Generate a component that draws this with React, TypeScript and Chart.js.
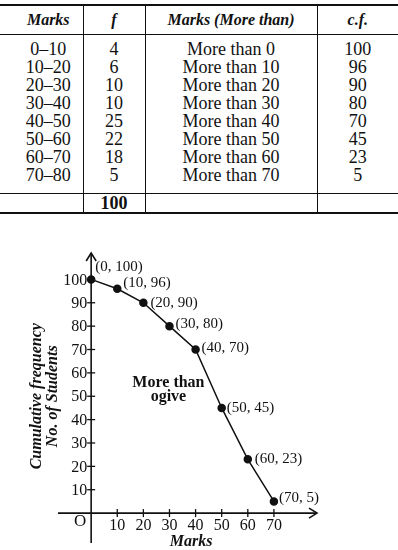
import React, { useEffect, useRef } from "react";
import { Chart, registerables } from "chart.js";
Chart.register(...registerables);

// ---- data ----
const classes = ["0–10", "10–20", "20–30", "30–40", "40–50", "50–60", "60–70", "70–80"];
const freq = [4, 6, 10, 10, 25, 22, 18, 5];
const moreThanLabels = ["More than 0", "More than 10", "More than 20", "More than 30", "More than 40", "More than 50", "More than 60", "More than 70"];
const cumFreq = [100, 96, 90, 80, 70, 45, 23, 5];
const totalFreq = 100;
const lowerLimits = [0, 10, 20, 30, 40, 50, 60, 70];
const xTicks = [10, 20, 30, 40, 50, 60, 70];
const yTicks = [10, 20, 30, 40, 50, 60, 70, 80, 90, 100];
const headers = ["Marks", "f", "Marks (More than)", "c.f."];
const xTitle = "Marks";
const yTitleLines = ["Cumulative frequency", "No. of Students"];
const curveName = ["More than", "ogive"];

const SERIF = "'Liberation Serif', 'Times New Roman', serif";

export default function App() {
  const ref = useRef<HTMLCanvasElement | null>(null);

  useEffect(() => {
    if (!ref.current) return;
    const labelOffsets = [[4, -12], [6, -6], [7, 0], [6, -2], [6, -1], [5, 0], [7, 0], [5, -3]];
    const axesPlugin = {
      id: "axesDraw",
      beforeDatasetsDraw(chart: any) {
        const { ctx, chartArea, scales } = chart;
        const xs = scales.x, ys = scales.y;
        const x0 = xs.getPixelForValue(0);
        const y0 = ys.getPixelForValue(0);
        ctx.save();
        ctx.strokeStyle = "#111";
        ctx.fillStyle = "#111";
        ctx.lineWidth = 1.6;
        // x axis
        ctx.beginPath();
        ctx.moveTo(chartArea.left, y0);
        ctx.lineTo(chartArea.right, y0);
        ctx.stroke();
        ctx.beginPath();
        ctx.moveTo(chartArea.right - 8, y0 - 5);
        ctx.lineTo(chartArea.right, y0);
        ctx.lineTo(chartArea.right - 8, y0 + 5);
        ctx.stroke();
        // y axis
        ctx.beginPath();
        ctx.moveTo(x0, chartArea.bottom);
        ctx.lineTo(x0, chartArea.top);
        ctx.stroke();
        ctx.beginPath();
        ctx.moveTo(x0 - 5, chartArea.top + 8);
        ctx.lineTo(x0, chartArea.top);
        ctx.lineTo(x0 + 5, chartArea.top + 8);
        ctx.stroke();
        // ticks
        ctx.lineWidth = 1.3;
        ctx.font = `16px ${SERIF}`;
        ctx.textAlign = "right";
        ctx.textBaseline = "middle";
        yTicks.forEach((v) => {
          const py = ys.getPixelForValue(v);
          ctx.beginPath();
          ctx.moveTo(x0 - 4, py);
          ctx.lineTo(x0 + 4, py);
          ctx.stroke();
          ctx.fillText(String(v), x0 - 4, py + 1);
        });
        ctx.textAlign = "center";
        xTicks.forEach((v) => {
          const px = xs.getPixelForValue(v);
          ctx.beginPath();
          ctx.moveTo(px, y0 - 4);
          ctx.lineTo(px, y0 + 4);
          ctx.stroke();
          ctx.fillText(String(v), px, y0 + 13);
        });
        ctx.font = `17px ${SERIF}`;
        ctx.fillText("O", x0 - 11, y0 + 8);
        // axis titles
        ctx.font = `italic bold 16px ${SERIF}`;
        ctx.fillText(xTitle, x0 + 100, y0 + 29);
        const yc = ys.getPixelForValue(50);
        ctx.save();
        ctx.translate(x0 - 54, yc);
        ctx.rotate(-Math.PI / 2);
        ctx.fillText(yTitleLines[0], 0, 0);
        ctx.restore();
        ctx.save();
        ctx.translate(x0 - 38, yc);
        ctx.rotate(-Math.PI / 2);
        ctx.fillText(yTitleLines[1], 0, 0);
        ctx.restore();
        // curve name
        ctx.font = `bold 16px ${SERIF}`;
        const cx = xs.getPixelForValue(29.6);
        ctx.fillText(curveName[0], cx, ys.getPixelForValue(55.8));
        ctx.fillText(curveName[1], cx, ys.getPixelForValue(49.6));
        ctx.restore();
      },
      afterDatasetsDraw(chart: any) {
        const { ctx } = chart;
        const meta = chart.getDatasetMeta(0);
        ctx.save();
        ctx.fillStyle = "#111";
        ctx.font = `15px ${SERIF}`;
        ctx.textAlign = "left";
        ctx.textBaseline = "middle";
        meta.data.forEach((pt: any, i: number) => {
          const [dx, dy] = labelOffsets[i];
          ctx.fillText(`(${lowerLimits[i]}, ${cumFreq[i]})`, pt.x + dx, pt.y + dy);
        });
        ctx.restore();
      },
    };

    const chart = new Chart(ref.current, {
      type: "line",
      data: {
        datasets: [
          {
            data: lowerLimits.map((x, i) => ({ x, y: cumFreq[i] })),
            borderColor: "#111",
            borderWidth: 1.5,
            pointRadius: 3.5,
            pointBackgroundColor: "#111",
            pointBorderColor: "#111",
            tension: 0,
            clip: false as any,
          },
        ],
      },
      options: {
        responsive: false,
        animation: false,
        layout: { padding: { left: 58, right: 81, top: 33, bottom: 7 } },
        plugins: { legend: { display: false }, tooltip: { enabled: false } },
        scales: {
          x: { type: "linear", min: -12.7, max: 86.5, display: false },
          y: { type: "linear", min: -12.8, max: 111.3, display: false },
        },
      },
      plugins: [axesPlugin],
    });
    return () => chart.destroy();
  }, []);

  const vb = "1.5px solid #111";
  const cell = (col: number, extra: React.CSSProperties = {}): React.CSSProperties => ({
    padding: 0,
    textAlign: "center",
    lineHeight: "18px",
    borderLeft: col > 0 ? vb : "none",
    paddingLeft: col === 0 ? 14 : 0,
    ...extra,
  });

  return (
    <div style={{ position: "absolute", left: 0, top: 0, width: 398, height: 550, background: "#fff", fontFamily: SERIF, color: "#111" }}>
      <table
        style={{
          position: "absolute",
          top: 4,
          left: 0,
          width: 398,
          borderCollapse: "collapse",
          tableLayout: "fixed",
          fontSize: 18,
          borderTop: "2px solid #111",
          borderBottom: "2px solid #111",
        }}
      >
        <colgroup>
          <col style={{ width: 83 }} />
          <col style={{ width: 62 }} />
          <col style={{ width: 172 }} />
          <col style={{ width: 81 }} />
        </colgroup>
        <thead>
          <tr style={{ height: 29 }}>
            {headers.map((h, c) => (
              <th key={h} style={cell(c, { fontStyle: "italic", fontWeight: "bold", fontSize: 16, borderBottom: "1px solid #111" })}>
                {h}
              </th>
            ))}
          </tr>
        </thead>
        <tbody>
          {classes.map((cl, i) => {
            const ex: React.CSSProperties = {
              paddingTop: i === 0 ? 5 : 0,
              paddingBottom: i === classes.length - 1 ? 9 : 0,
            };
            return (
              <tr key={cl}>
                <td style={cell(0, ex)}>{cl}</td>
                <td style={cell(1, ex)}>{freq[i]}</td>
                <td style={cell(2, ex)}>{moreThanLabels[i]}</td>
                <td style={cell(3, ex)}>{cumFreq[i]}</td>
              </tr>
            );
          })}
          <tr style={{ height: 20 }}>
            <td style={cell(0, { borderTop: "1px solid #111" })}></td>
            <td style={cell(1, { borderTop: "1px solid #111", fontWeight: "bold" })}>{totalFreq}</td>
            <td style={cell(2, { borderTop: "1px solid #111" })}></td>
            <td style={cell(3, { borderTop: "1px solid #111" })}></td>
          </tr>
        </tbody>
      </table>
      <div style={{ position: "absolute", top: 220, left: 0, width: 398, height: 330 }}>
        <canvas ref={ref} width={398} height={330} style={{ width: 398, height: 330, display: "block" }} />
      </div>
    </div>
  );
}
